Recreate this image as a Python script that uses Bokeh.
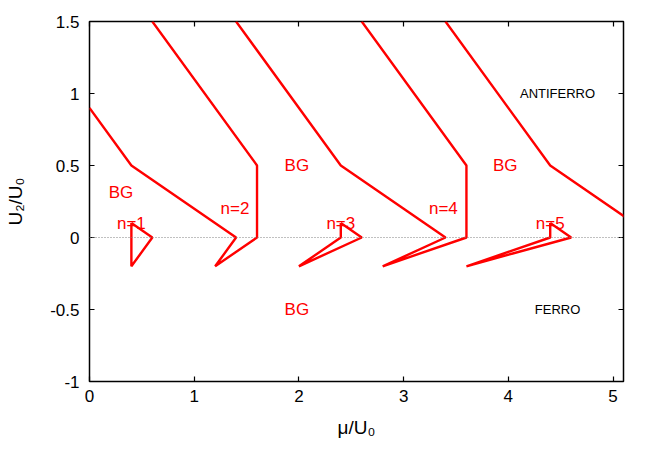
from bokeh.plotting import figure
from bokeh.models import Range1d, LinearAxis, FixedTicker, Span, Label
from bokeh.embed import file_html
from bokeh.resources import INLINE

# boundary curves (mu/U0, U2/U0)
curve_a_x = [0.0, 0.4, 1.4, 1.2, 1.6, 1.6, 0.6]
curve_a_y = [0.9, 0.5, 0.0, -0.2, 0.0, 0.5, 1.5]
curve_b_x = [1.4, 2.4, 3.4, 2.8, 3.6, 3.6, 2.6]
curve_b_y = [1.5, 0.5, 0.0, -0.2, 0.0, 0.5, 1.5]
curve_c_x = [3.4, 4.4, 5.4]
curve_c_y = [1.5, 0.5, 0.0]
tri1_x = [0.4, 0.4, 0.4, 0.6, 0.4]
tri1_y = [0.1, 0.0, -0.2, 0.0, 0.1]
tri3_x = [2.4, 2.4, 2.0, 2.6, 2.4]
tri3_y = [0.1, 0.0, -0.2, 0.0, 0.1]
tri5_x = [4.4, 4.4, 3.6, 4.6, 4.4]
tri5_y = [0.1, 0.0, -0.2, 0.0, 0.1]

red_labels = ["BG", "BG", "BG", "BG", "n=1", "n=2", "n=3", "n=4", "n=5"]
red_label_x = [0.3, 1.98, 3.97, 1.98, 0.4, 1.39, 2.4, 3.38, 4.4]
red_label_y = [0.31, 0.5, 0.5, -0.5, 0.1, 0.2, 0.1, 0.2, 0.1]
black_labels = ["ANTIFERRO", "FERRO"]
black_label_x = [4.47, 4.47]
black_label_y = [1.0, -0.5]

x_ticks = [0, 1, 2, 3, 4, 5]
y_ticks = [-1, -0.5, 0, 0.5, 1, 1.5]
y_tick_labels = ["-1", "-0.5", "0", "0.5", "1", "1.5"]

p = figure(output_backend="svg", toolbar_location=None,
           frame_width=534, frame_height=360,
           x_range=Range1d(0, 5.1), y_range=Range1d(-1, 1.5),
           min_border_left=89, min_border_top=21, min_border_bottom=60, min_border_right=22)
p.background_fill_color = "white"
p.border_fill_color = "white"
p.grid.visible = False
p.outline_line_color = "black"
p.outline_line_width = 1.5

FONT = "Liberation Sans"

for ax in [p.xaxis[0], p.yaxis[0]]:
    ax.axis_line_color = None
    ax.major_tick_in = 5
    ax.major_tick_out = 0
    ax.minor_tick_line_color = None
    ax.major_tick_line_width = 1.2
    ax.major_label_text_font = FONT
    ax.major_label_text_font_size = "17px"
    ax.major_label_text_color = "black"
    ax.axis_label_text_font = FONT
    ax.axis_label_text_font_size = "19px"
    ax.axis_label_text_font_style = "normal"
    ax.axis_label_text_color = "black"

p.xaxis[0].ticker = FixedTicker(ticks=x_ticks)
p.yaxis[0].ticker = FixedTicker(ticks=y_ticks)
p.yaxis[0].major_label_overrides = {t: s for t, s in zip(y_ticks, y_tick_labels)}
p.xaxis[0].axis_label = "μ/U₀"
p.yaxis[0].axis_label = "U₂/U₀"
p.xaxis[0].major_label_standoff = 8
p.yaxis[0].major_label_standoff = 10
p.xaxis[0].axis_label_standoff = 12
p.yaxis[0].axis_label_standoff = 21

right_ax = LinearAxis(ticker=FixedTicker(ticks=y_ticks), major_label_text_color=None,
                      axis_line_color=None, major_tick_in=5, major_tick_out=0,
                      minor_tick_line_color=None, major_tick_line_width=1.2,
                      major_label_text_font_size="1px")
top_ax = LinearAxis(ticker=FixedTicker(ticks=x_ticks), major_label_text_color=None,
                    axis_line_color=None, major_tick_in=5, major_tick_out=0,
                    minor_tick_line_color=None, major_tick_line_width=1.2,
                    major_label_text_font_size="1px")
p.add_layout(right_ax, "right")
p.add_layout(top_ax, "above")

p.add_layout(Span(location=0, dimension="width", line_color="gray",
                  line_dash="1 2", line_width=1))

for xs, ys in [(curve_a_x, curve_a_y), (curve_b_x, curve_b_y), (curve_c_x, curve_c_y),
               (tri1_x, tri1_y), (tri3_x, tri3_y), (tri5_x, tri5_y)]:
    p.line(xs, ys, line_color="#ff0000", line_width=2.4)

for t, x, y in zip(red_labels, red_label_x, red_label_y):
    p.add_layout(Label(x=x, y=y, text=t, text_color="#ff0000", text_font=FONT,
                       text_font_size="17px", text_align="center", text_baseline="middle"))
for t, x, y in zip(black_labels, black_label_x, black_label_y):
    p.add_layout(Label(x=x, y=y, text=t, text_color="black", text_font=FONT,
                       text_font_size="13px", text_align="center", text_baseline="middle"))

open("out.html", "w").write(file_html(p, INLINE))
